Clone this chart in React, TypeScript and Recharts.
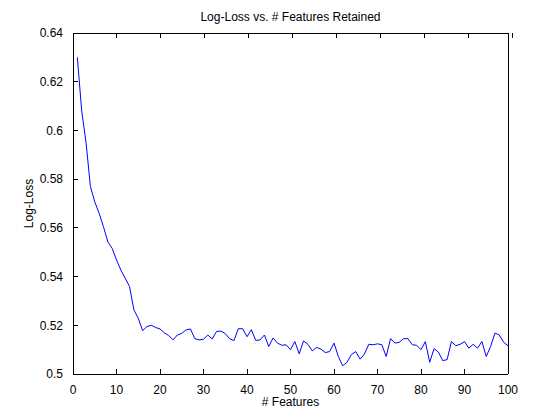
import { Line, LineChart, XAxis, YAxis } from 'recharts'

// log-loss for 1..100 retained features
const logLoss = [
  0.63, 0.608, 0.595, 0.577, 0.5707, 0.566, 0.5605, 0.5543, 0.5516, 0.5468,
  0.5427, 0.5393, 0.5359, 0.5263, 0.5229, 0.5178, 0.5195, 0.52, 0.5191, 0.5185,
  0.5169, 0.5158, 0.514, 0.516, 0.5167, 0.5181, 0.5185, 0.5145, 0.514, 0.5143,
  0.516, 0.5144, 0.5175, 0.5176, 0.5166, 0.5145, 0.5137, 0.5186, 0.5186, 0.5153,
  0.5182, 0.5138, 0.514, 0.516, 0.5113, 0.5148, 0.5127, 0.5118, 0.512, 0.51,
  0.5133, 0.5083, 0.5136, 0.5122, 0.5095, 0.5109, 0.5102, 0.5088, 0.5092, 0.5127,
  0.5072, 0.5034, 0.5048, 0.508, 0.5092, 0.5061, 0.5082, 0.5122, 0.512, 0.5124,
  0.512, 0.5072, 0.5145, 0.5127, 0.513, 0.5145, 0.5145, 0.512, 0.5118, 0.51,
  0.5133, 0.5048, 0.5104, 0.509, 0.5055, 0.5059, 0.5133, 0.5116, 0.5122, 0.5133,
  0.5106, 0.5122, 0.5106, 0.5133, 0.5072, 0.5113, 0.5168, 0.516, 0.513, 0.5116,
]

const xTicks = [0, 10, 20, 30, 40, 50, 60, 70, 80, 90, 100]
const yTicks = [0.5, 0.52, 0.54, 0.56, 0.58, 0.6, 0.62, 0.64]

const data = logLoss.map((v, i) => ({ features: i + 1, loss: v }))

const font = '"Liberation Sans", Arial, sans-serif'
const fmtY = (v: number) => String(Number(v.toFixed(2)))
const TICK = 5
const XGAP = 11
const YGAP = 10
const axisLine = { stroke: '#000', strokeWidth: 1, shapeRendering: 'crispEdges' }

// matlab style ticks point into the plot box
function BottomTick({ x, y, payload }: any) {
  return (
    <g>
      <line x1={x} x2={x} y1={y - XGAP} y2={y - XGAP - TICK} stroke="#000" strokeWidth={1} shapeRendering="crispEdges" />
      <text x={x} y={y} dy="0.71em" textAnchor="middle" fill="#000" fontSize={12} fontFamily={font}>
        {payload.value}
      </text>
    </g>
  )
}

function TopTick({ x, y }: any) {
  return (
    <g>
      <line x1={x} x2={x} y1={y} y2={y + TICK} stroke="#000" strokeWidth={1} shapeRendering="crispEdges" />
    </g>
  )
}

function LeftTick({ x, y, payload }: any) {
  return (
    <g>
      <line x1={x + YGAP} x2={x + YGAP + TICK} y1={y} y2={y} stroke="#000" strokeWidth={1} shapeRendering="crispEdges" />
      <text x={x} y={y} dy="0.355em" textAnchor="end" fill="#000" fontSize={12} fontFamily={font}>
        {fmtY(payload.value)}
      </text>
    </g>
  )
}

function RightTick({ x, y }: any) {
  return (
    <g>
      <line x1={x} x2={x - TICK} y1={y} y2={y} stroke="#000" strokeWidth={1} shapeRendering="crispEdges" />
    </g>
  )
}

export default function App() {
  return (
    <div style={{ position: 'absolute', left: 0, top: 0, width: 560, height: 420, background: '#fff' }}>
      <div
        style={{
          position: 'absolute',
          top: 10,
          left: 73,
          width: 435,
          textAlign: 'center',
          fontFamily: font,
          fontSize: 12,
          lineHeight: '14px',
          color: '#000',
        }}
      >
        Log-Loss vs. # Features Retained
      </div>
      <LineChart width={560} height={420} data={data} margin={{ top: 20, right: 0, bottom: 0, left: 0 }}>
        <XAxis
          xAxisId="b"
          dataKey="features"
          type="number"
          domain={[0, 100]}
          ticks={xTicks}
          tickSize={0}
          tickMargin={XGAP}
          tickLine={false}
          tick={<BottomTick />}
          height={46}
          axisLine={axisLine}
          label={{ value: '# Features', position: 'insideBottom', offset: 14, style: { fill: '#000', fontSize: 12, fontFamily: font } }}
        />
        <XAxis
          xAxisId="t"
          orientation="top"
          type="number"
          domain={[0, 100]}
          ticks={xTicks}
          tickSize={0}
          tickMargin={0}
          tickLine={false}
          tick={<TopTick />}
          height={13}
          axisLine={axisLine}
        />
        <YAxis
          yAxisId="l"
          type="number"
          domain={[0.5, 0.64]}
          ticks={yTicks}
          tickSize={0}
          tickMargin={YGAP}
          tickLine={false}
          tick={<LeftTick />}
          width={73}
          axisLine={axisLine}
          label={{
            value: 'Log-Loss',
            angle: -90,
            position: 'insideLeft',
            offset: 29,
            style: { textAnchor: 'middle', fill: '#000', fontSize: 12, fontFamily: font },
          }}
        />
        <YAxis
          yAxisId="r"
          orientation="right"
          type="number"
          domain={[0.5, 0.64]}
          ticks={yTicks}
          tickSize={0}
          tickMargin={0}
          tickLine={false}
          tick={<RightTick />}
          width={52}
          axisLine={axisLine}
        />
        <Line
          xAxisId="b"
          yAxisId="l"
          dataKey="loss"
          type="linear"
          stroke="#0000ff"
          strokeWidth={1}
          dot={false}
          isAnimationActive={false}
        />
      </LineChart>
    </div>
  )
}
